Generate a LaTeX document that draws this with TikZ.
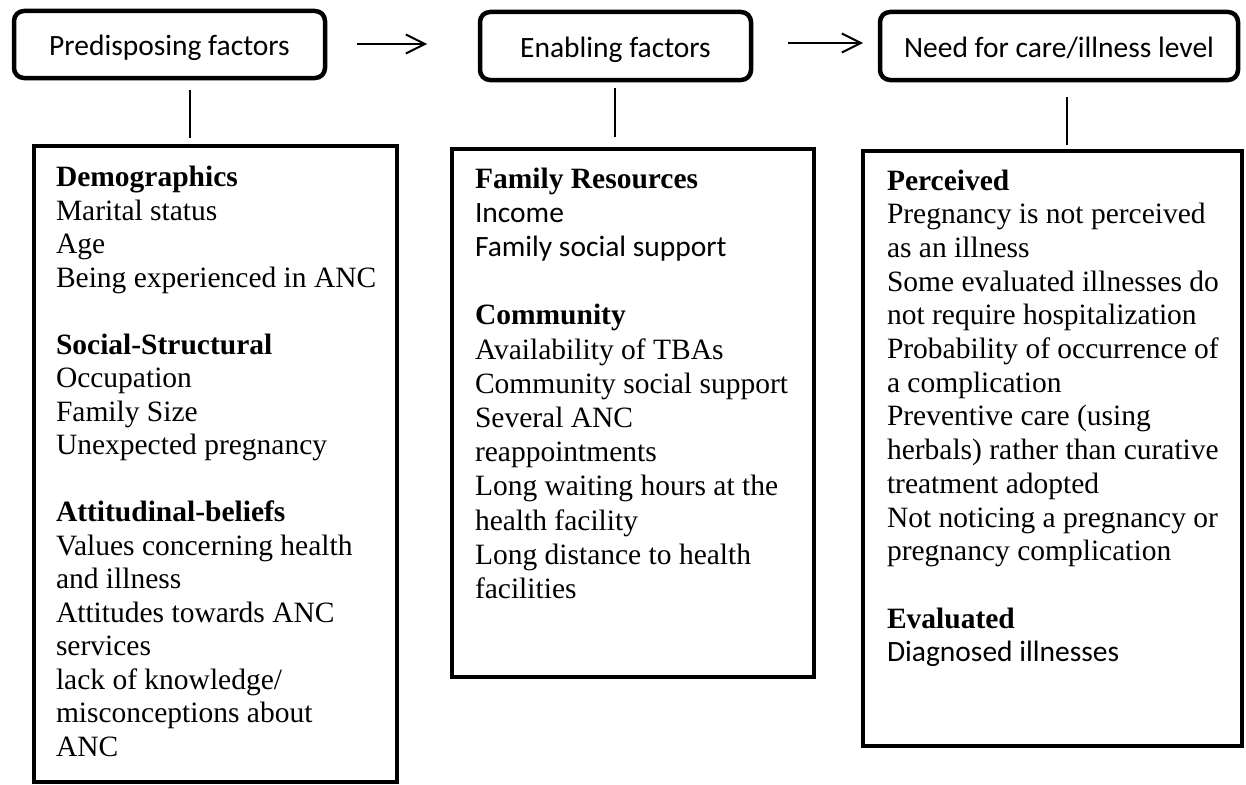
\documentclass[tikz,border=0pt]{standalone}
\usepackage{fontspec}
\setmainfont{Liberation Serif}
\newfontfamily\calfont{Carlito}
\usetikzlibrary{arrows.meta}
\begin{document}
\begin{tikzpicture}[x=1pt,y=-1pt,
  every node/.style={outer sep=0pt},
  topbox/.style={draw, line width=4.5pt, rounded corners=10pt, inner sep=0pt,
    text height=23pt, text depth=0pt,
    font=\calfont\fontsize{29.5}{34}\selectfont},
  bigbox/.style={draw, line width=4pt, inner sep=0pt, anchor=north west},
  body/.style={anchor=base west, inner sep=0pt},
  link/.style={line width=2pt},
  arr/.style={line width=2pt, -{Straight Barb[length=19pt,width=19pt]}}
]
\useasboundingbox (0,0) rectangle (1246,784);

% top boxes
\node[topbox, minimum width=311pt, minimum height=67pt] (P) at (169.5,44.5) {Predisposing factors};
\node[topbox, minimum width=271pt, minimum height=68pt] (E) at (615.5,46) {Enabling factors};
\node[topbox, minimum width=358pt, minimum height=68pt] (N) at (1059,46) {Need for care/illness level};

% lower boxes
\node[bigbox, minimum width=363pt, minimum height=636pt] (A) at (34,146) {};
\node[bigbox, minimum width=362pt, minimum height=528pt] (B) at (452,149) {};
\node[bigbox, minimum width=379pt, minimum height=595pt] (C) at (863,151) {};

% texts
\node[body] (At) at (56,186.7) {\parbox[t]{360pt}{\raggedright\fontsize{29.5}{33.5}\selectfont
\textbf{Demographics}\\
Marital status\\
Age\\
Being experienced in ANC\\[33.5pt]
\textbf{Social-Structural}\\
Occupation\\
Family Size\\
Unexpected pregnancy\\[33.5pt]
\textbf{Attitudinal-beliefs}\\
Values concerning health\\
and illness\\
Attitudes towards ANC\\
services\\
lack of knowledge/\\
misconceptions about\\
ANC}};

\node[body] (Bt) at (475,188) {\parbox[t]{360pt}{\raggedright\fontsize{29.5}{34.2}\selectfont
\textbf{Family Resources}\\
{\calfont Income}\\
{\calfont Family social support}\\[34.2pt]
\textbf{Community}\\
Availability of TBAs\\
Community social support\\
Several ANC\\
reappointments\\
Long waiting hours at the\\
health facility\\
Long distance to health\\
facilities}};

\node[body] (Ct) at (887,190) {\parbox[t]{360pt}{\raggedright\fontsize{29.5}{33.7}\selectfont
\textbf{Perceived}\\
Pregnancy is not perceived\\
as an illness\\
Some evaluated illnesses do\\
not require hospitalization\\
Probability of occurrence of\\
a complication\\
Preventive care (using\\
herbals) rather than curative\\
treatment adopted\\
Not noticing a pregnancy or\\
pregnancy complication\\[33.7pt]
\textbf{Evaluated}\\
{\calfont Diagnosed illnesses}}};

% arrows
\draw[arr] ([xshift=32pt,yshift=0.5pt]P.east) -- ([xshift=-53pt,yshift=2pt]E.west);
\draw[arr] ([xshift=37pt,yshift=3pt]E.east) -- ([xshift=-17pt,yshift=3pt]N.west);

% vertical links
\draw[link] ([xshift=20.5pt,yshift=-12pt]P.south) -- ([xshift=-25.5pt,yshift=8pt]A.north);
\draw[link] ([xshift=-0.5pt,yshift=-8pt]E.south) -- ([xshift=-18pt,yshift=12pt]B.north);
\draw[link] ([xshift=8pt,yshift=-17pt]N.south) -- ([xshift=14.5pt,yshift=6pt]C.north);
\end{tikzpicture}
\end{document}
